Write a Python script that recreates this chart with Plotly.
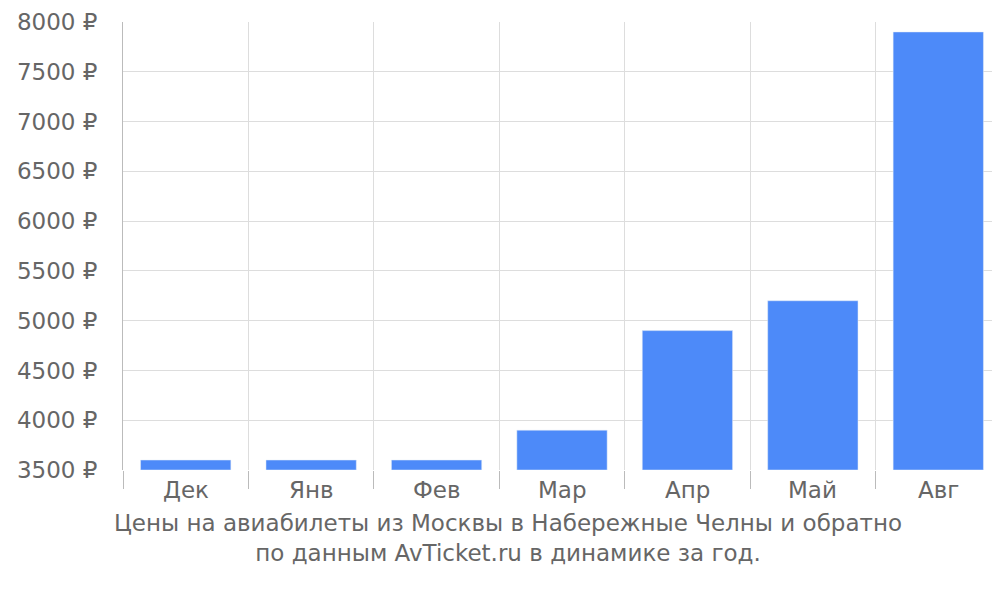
import plotly.graph_objects as go

months = ["Дек", "Янв", "Фев", "Мар", "Апр", "Май", "Авг"]
prices = [3600, 3600, 3600, 3900, 4900, 5200, 7900]
y_ticks = [3500, 4000, 4500, 5000, 5500, 6000, 6500, 7000, 7500, 8000]

xpos = [i + 0.5 for i in range(len(months))]

# bars drawn up from the 3500 baseline
fig = go.Figure(go.Bar(x=xpos, y=[p - 3500 for p in prices], base=3500, width=0.72,
                       marker_color="#4d8af9", hoverinfo="skip"))

for xp, m in zip(xpos, months):
    fig.add_annotation(x=xp, y=0, xref="x", yref="paper", yshift=-35,
                       text=m, showarrow=False, font=dict(size=23, color="#666"))

fig.add_annotation(x=500, y=560, xref="paper", yref="paper", showarrow=False,
                   text="Цены на авиабилеты из Москвы в Набережные Челны и обратно<br>по данным AvTicket.ru в динамике за год.",
                   font=dict(size=23, color="#666"), align="center")
fig.layout.annotations[-1].update(x=(500 - 115) / 878, y=-(560 - 462) / 448)

fig.update_layout(
    width=1000, height=600,
    margin=dict(l=115, r=7, t=14, b=138, autoexpand=False),
    plot_bgcolor="white", paper_bgcolor="white",
    font=dict(family="DejaVu Sans", size=23, color="#666"),
    showlegend=False,
    xaxis=dict(range=[0, 7], tickvals=list(range(8)), showticklabels=False,
               showgrid=True, gridcolor="#ddd", ticks="outside", ticklen=18,
               tickcolor="#bbb", zeroline=False, automargin=False),
    yaxis=dict(range=[3500, 8000], tickvals=y_ticks,
               ticktext=[f"{v} ₽" for v in y_ticks],
               showgrid=True, gridcolor="#ddd", zeroline=False, automargin=False,
               showline=True, linecolor="#bbb", ticks="outside", ticklen=0,
               ticklabelstandoff=20),
)
fig.write_html("out.html")
